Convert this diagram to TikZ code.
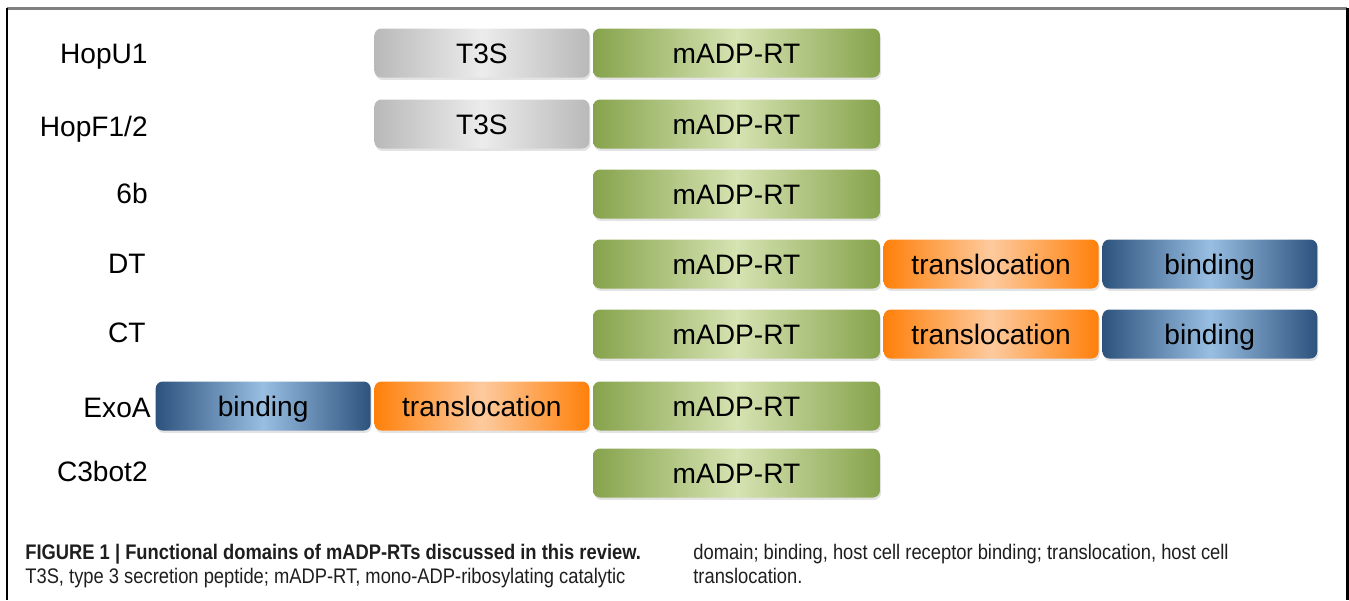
\documentclass[tikz,border=0pt]{standalone}
\usepackage{fontspec}
\setmainfont{Liberation Sans}
\newfontfamily\capfont[FakeStretch=0.87]{Liberation Sans}
\usepackage{tikz}
\usetikzlibrary{positioning, shadows}
\definecolor{grayedge}{RGB}{185, 185, 185}
\definecolor{graymid}{RGB}{236, 236, 236}
\definecolor{greenedge}{RGB}{134, 163, 76}
\definecolor{greenmid}{RGB}{214, 227, 178}
\definecolor{orangeedge}{RGB}{255, 128, 10}
\definecolor{orangemid}{RGB}{253, 202, 158}
\definecolor{blueedge}{RGB}{45, 82, 125}
\definecolor{bluemid}{RGB}{152, 190, 226}
\definecolor{captext}{RGB}{30, 30, 30}

\tikzset{
  dom/.style={rounded corners=4pt, minimum height=0.98cm, minimum width=4.3cm,
    inner sep=0pt, text height=11.5pt, text depth=0pt, font=\fontsize{16}{16}\selectfont,
    drop shadow={shadow xshift=0.6pt, shadow yshift=-1.4pt, opacity=0.22}},
  t3s/.style={dom, left color=grayedge, right color=grayedge, middle color=graymid},
  rt/.style={dom, minimum width=5.74cm, left color=greenedge, right color=greenedge, middle color=greenmid},
  transl/.style={dom, left color=orangeedge, right color=orangeedge, middle color=orangemid},
  bind/.style={dom, left color=blueedge, right color=blueedge, middle color=bluemid},
  protname/.style={anchor=east, inner sep=0pt, text height=11.5pt, text depth=0pt, font=\fontsize{16}{16}\selectfont},
  captxt/.style={anchor=base west, inner sep=0pt, text=captext, font=\capfont\fontsize{12}{13}\selectfont}
}

\begin{document}
\begin{tikzpicture}[x=0.02cm, y=-0.02cm]
\useasboundingbox (0,0) rectangle (1349,600);
\draw[gray, line width=1.5pt] (7,8.5) -- (1347,8.5);
\draw[line width=1pt] (7,8) -- (7,600);
\draw[line width=1.5pt] (1347.5,8) -- (1347.5,600);

% rows
\node[protname] (n1) at (148,53) {HopU1};
\node[protname] (n2) at (148,126) {HopF1/2};
\node[protname] (n3) at (148,193) {6b};
\node[protname] (n4) at (146,263) {DT};
\node[protname] (n5) at (146,332) {CT};
\node[protname] (n6) at (151,407) {ExoA};
\node[protname] (n7) at (148,471) {C3bot2};

\node[rt] (hopu-rt) at (736.5,53) {mADP-RT};
\node[t3s, left=0.06cm of hopu-rt] (hopu-t3s) {T3S};

\node[rt] (hopf-rt) at (736.5,124) {mADP-RT};
\node[t3s, left=0.06cm of hopf-rt] (hopf-t3s) {T3S};

\node[rt] (sixb-rt) at (736.5,194) {mADP-RT};

\node[rt] (dt-rt) at (736.5,264) {mADP-RT};
\node[transl, right=0.06cm of dt-rt] (dt-tr) {translocation};
\node[bind, right=0.06cm of dt-tr] (dt-bd) {binding};

\node[rt] (ct-rt) at (736.5,334) {mADP-RT};
\node[transl, right=0.06cm of ct-rt] (ct-tr) {translocation};
\node[bind, right=0.06cm of ct-tr] (ct-bd) {binding};

\node[rt] (exoa-rt) at (736.5,406) {mADP-RT};
\node[transl, left=0.06cm of exoa-rt] (exoa-tr) {translocation};
\node[bind, left=0.06cm of exoa-tr] (exoa-bd) {binding};

\node[rt] (c3-rt) at (736.5,473) {mADP-RT};

% caption
\node[captxt] (cap1) at (25,559) {\bfseries FIGURE 1 | Functional domains of mADP-RTs discussed in this review.};
\node[captxt] (cap2) at (25,583) {T3S, type 3 secretion peptide; mADP-RT, mono-ADP-ribosylating catalytic};
\node[captxt] (cap3) at (693,559) {domain; binding, host cell receptor binding; translocation, host cell};
\node[captxt] (cap4) at (693,583) {translocation.};
\end{tikzpicture}
\end{document}
